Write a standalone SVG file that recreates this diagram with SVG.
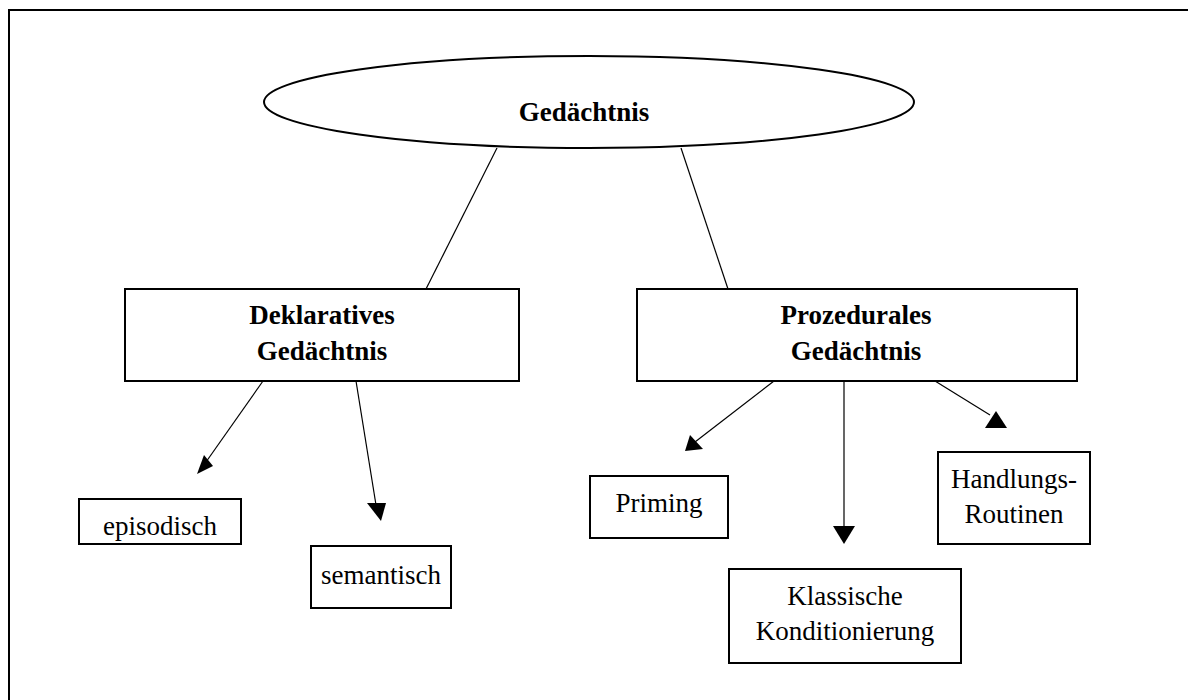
<svg xmlns="http://www.w3.org/2000/svg" width="1188" height="700" viewBox="0 0 1188 700">
<style>
.box{fill:#fff;stroke:#000;stroke-width:2}
.t{font-family:"Liberation Serif","Times New Roman",serif;font-size:27px;fill:#000;text-anchor:middle}
.b{font-weight:bold}
.c{stroke:#000;stroke-width:1.2;fill:none}
.h{fill:#000;stroke:none}
</style>
<rect width="1188" height="700" fill="#fff"/>
<path d="M9 720 V10 H1200" fill="none" stroke="#000" stroke-width="2"/>
<g id="connectors">
<line class="c" x1="497" y1="148" x2="426" y2="289"/>
<line class="c" x1="681" y1="148" x2="728" y2="289"/>
<line class="c" x1="263" y1="381" x2="206" y2="462"/>
<polygon class="h" points="197,474 213,466 204,455"/>
<line class="c" x1="356" y1="381" x2="376" y2="505"/>
<polygon class="h" points="381,521 367,503 386,503"/>
<line class="c" x1="774" y1="381" x2="695" y2="442"/>
<polygon class="h" points="685,451 703,449 690,435"/>
<line class="c" x1="844" y1="381" x2="844" y2="527"/>
<polygon class="h" points="844,544 833,526 855,526"/>
<line class="c" x1="935" y1="381" x2="990" y2="415"/>
<polygon class="h" points="996,411 985,428 1007,428"/>
</g>
<g id="gedaechtnis">
<ellipse class="box" cx="589" cy="102" rx="325" ry="46"/>
<text class="t b" x="584" y="121">Gedächtnis</text>
</g>
<g id="deklarativ">
<rect class="box" x="125" y="289" width="394" height="92"/>
<text class="t b" x="322" y="324">Deklaratives</text>
<text class="t b" x="322" y="360">Gedächtnis</text>
</g>
<g id="prozedural">
<rect class="box" x="637" y="289" width="440" height="92"/>
<text class="t b" x="856" y="324">Prozedurales</text>
<text class="t b" x="856" y="360">Gedächtnis</text>
</g>
<g id="episodisch">
<rect class="box" x="79" y="499" width="162" height="45"/>
<text class="t" x="160" y="535">episodisch</text>
</g>
<g id="semantisch">
<rect class="box" x="311" y="546" width="140" height="62"/>
<text class="t" x="381" y="584">semantisch</text>
</g>
<g id="priming">
<rect class="box" x="590" y="476" width="138" height="62"/>
<text class="t" x="659" y="512">Priming</text>
</g>
<g id="klassisch">
<rect class="box" x="729" y="569" width="232" height="94"/>
<text class="t" x="845" y="605">Klassische</text>
<text class="t" x="845" y="640">Konditionierung</text>
</g>
<g id="handlung">
<rect class="box" x="938" y="452" width="152" height="92"/>
<text class="t" x="1014" y="488">Handlungs-</text>
<text class="t" x="1014" y="523">Routinen</text>
</g>
</svg>
